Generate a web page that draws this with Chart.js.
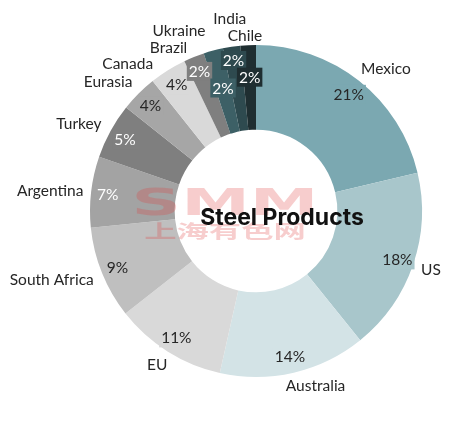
<!DOCTYPE html>
<html>
<head>
<meta charset="utf-8">
<script src="https://cdn.jsdelivr.net/npm/chart.js@4"></script>
<style>
  html, body { margin: 0; padding: 0; background: #fff; }
  #wrap { width: 452px; height: 421px; }
</style>
</head>
<body>
<div id="wrap"><canvas id="steelChart"></canvas></div>
<script>
// shares (percent)
const countries = ['Mexico', 'US', 'Australia', 'EU', 'South Africa', 'Argentina', 'Turkey',
                   'Eurasia', 'Canada', 'Brazil', 'Ukraine', 'India', 'Chile'];
const shares = [21.3, 17.9, 14.3, 10.9, 9.0, 6.9, 5.4, 3.6, 3.6, 2.0, 1.9, 1.7, 1.5];
const centerTitle = 'Steel Products';

const sliceColors = ['#7ba8b1', '#a8c6cb', '#d3e3e6', '#d9d9d9', '#bfbfbf', '#a3a3a3', '#7f7f7f',
                     '#a6a6a6', '#d9d9d9', '#7f7f7f', '#3d6066', '#2e4a4f', '#1f2e31'];
const pctTextColors = ['#262626', '#262626', '#262626', '#262626', '#262626', '#ffffff', '#ffffff',
                       '#262626', '#262626', '#ffffff', '#ffffff', '#ffffff', '#ffffff'];
// radial position of the % label, as a share of the outer radius
const pctRadius = [0.9, 0.9, 0.9, 0.9, 0.9, 0.9, 0.9, 0.9, 0.9, 0.91, 0.77, 0.92, 0.81];
// small hand nudges for the crowded name labels at the top
const nameNudge = [[6, 1], [0, 0], [13, -2], [0, 0], [-3, 1], [1, 1], [-4, 1], [-7, 0],
                   [-22, 7], [-15, 6], [-25, -4], [2, -12], [-2, 7]];

const labelFont = '15.5px Lato, "Open Sans", sans-serif';

const doughnutLabels = {
    id: 'doughnutLabels',
    afterDatasetsDraw(chart) {
        const c = chart.ctx;
        const arcs = chart.getDatasetMeta(0).data;
        const cx = arcs[0].x, cy = arcs[0].y;

        // watermark
        c.save();
        c.fillStyle = 'rgba(225, 60, 60, 0.26)';
        c.textAlign = 'center';
        c.textBaseline = 'alphabetic';
        c.font = 'bold 46px "DejaVu Sans", sans-serif';
        c.save();
        c.translate(cx - 31, cy + 4);
        c.scale(1.5, 0.82);
        c.fillText('SMM', 0, 0);
        c.restore();
        c.font = 'bold 22px "Noto Sans CJK SC", sans-serif';
        c.save();
        c.translate(cx - 31, cy + 27);
        c.scale(1.47, 0.85);
        c.fillText('上海有色网', 0, 0);
        c.restore();
        c.restore();

        // centre title
        c.save();
        c.fillStyle = '#111111';
        c.font = 'bold 23px Inter, "DejaVu Sans", sans-serif';
        c.textAlign = 'center';
        c.textBaseline = 'middle';
        c.fillText(centerTitle, cx + 26, cy + 7);
        c.restore();

        c.save();
        c.font = labelFont;
        c.textAlign = 'center';
        c.textBaseline = 'middle';
        arcs.forEach((arc, i) => {
            const a = (arc.startAngle + arc.endAngle) / 2;
            const R = arc.outerRadius;

            // percentage inside the ring
            const txt = Math.round(shares[i]) + '%';
            const r = R * pctRadius[i];
            const px = cx + Math.cos(a) * r;
            const py = cy + Math.sin(a) * r;
            const w = c.measureText(txt).width;
            c.fillStyle = sliceColors[i];
            c.fillRect(px - w / 2 - 2, py - 9, w + 4, 19);
            c.fillStyle = pctTextColors[i];
            c.fillText(txt, px, py + 1);

            // country name outside
            const name = countries[i];
            const nw = c.measureText(name).width;
            const ox = cx + Math.cos(a) * (R + 9);
            const oy = cy + Math.sin(a) * (R + 9);
            const nx = ox + Math.cos(a) * nw / 2 + nameNudge[i][0];
            const ny = oy + Math.sin(a) * 7 + nameNudge[i][1];
            c.fillStyle = '#262626';
            c.fillText(name, nx, ny);
        });
        c.restore();
    }
};

new Chart(document.getElementById('steelChart'), {
    type: 'doughnut',
    data: {
        labels: countries,
        datasets: [{
            data: shares,
            backgroundColor: sliceColors,
            borderWidth: 0
        }]
    },
    options: {
        responsive: true,
        maintainAspectRatio: false,
        animation: false,
        cutout: '49%',
        layout: {
            padding: { left: 90, right: 30, top: 45, bottom: 44 }
        },
        plugins: {
            legend: { display: false },
            tooltip: { enabled: false }
        }
    },
    plugins: [doughnutLabels]
});
</script>
</body>
</html>
